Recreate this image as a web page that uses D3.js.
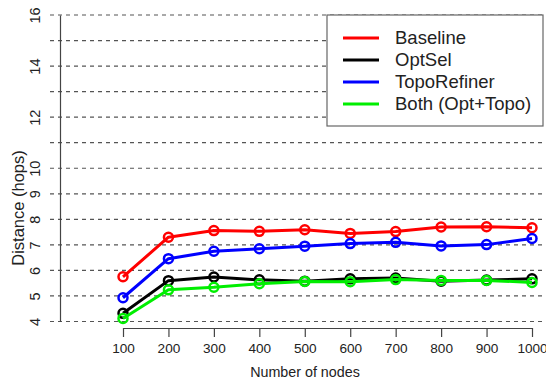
<!DOCTYPE html>
<html><head><meta charset="utf-8">
<script src="https://cdn.jsdelivr.net/npm/d3@7"></script>
<style>body{margin:0;background:#fff}svg{display:block;font-family:"Liberation Sans",Arial,sans-serif}</style>
</head><body><svg id="c" width="546" height="378"></svg>
<script>
const nodes = [100,200,300,400,500,600,700,800,900,1000];
const baseline = [5.75,7.30,7.56,7.53,7.59,7.45,7.52,7.70,7.71,7.67];
const optsel   = [4.32,5.60,5.74,5.63,5.58,5.67,5.70,5.58,5.62,5.67];
const topo     = [4.93,6.46,6.75,6.85,6.95,7.05,7.10,6.96,7.01,7.25];
const both     = [4.12,5.24,5.34,5.48,5.57,5.56,5.64,5.61,5.61,5.53];
const seriesNames = ["Baseline","OptSel","TopoRefiner","Both (Opt+Topo)"];
const seriesColors = ["#ff0000","#000000","#0000ff","#00ee00"];
const yTickLabels = [4,5,6,7,8,9,10,12,14,16];
const yGrid = d3.range(4,17);

const svg = d3.select("#c");
const x = d3.scaleLinear().domain([100,1000]).range([123,532]);
const y = d3.scaleLinear().domain([4,16]).range([321.5,15]);

// grid
svg.append("g").selectAll("line").data(yGrid).join("line")
  .attr("x1",50).attr("x2",546).attr("y1",d=>y(d)).attr("y2",d=>y(d))
  .attr("stroke","#555").attr("stroke-width",1.2).attr("stroke-dasharray","4,4");

// y axis
const ya = svg.append("g").attr("transform","translate(60,0)")
  .call(d3.axisLeft(y).tickValues(yTickLabels).tickSize(0).tickFormat(d3.format("d")));
ya.select(".domain").attr("stroke","#444").attr("stroke-width",1.2);
ya.selectAll("text").attr("font-size",14.5).attr("fill","#222")
  .attr("transform","translate(-25,0) rotate(-90)").attr("x",0).attr("y",0)
  .attr("dy","0.35em").attr("text-anchor","middle");

// x axis
const xa = svg.append("g").attr("transform","translate(0,328)")
  .call(d3.axisBottom(x).tickValues(nodes).tickSize(9).tickSizeOuter(0).tickFormat(d3.format("d")));
xa.select(".domain").attr("stroke","#444").attr("stroke-width",1.2);
xa.selectAll(".tick line").attr("stroke","#444").attr("stroke-width",1.2);
xa.selectAll("text").attr("font-size",13.6).attr("fill","#222").attr("y",20).attr("dy","0.35em");

svg.append("text").attr("x",305).attr("y",372).attr("dy","0.35em").attr("text-anchor","middle")
  .attr("font-size",14.3).attr("fill","#222").text("Number of nodes");
svg.append("text").attr("transform","translate(18,208) rotate(-90)").attr("dy","0.35em")
  .attr("text-anchor","middle").attr("font-size",16.5).attr("fill","#222").text("Distance (hops)");

const all = [baseline,optsel,topo,both];
const line = d3.line().x((d,i)=>x(nodes[i])).y(d=>y(d));
all.forEach((vals,k)=>{
  const g = svg.append("g");
  g.append("path").datum(vals).attr("d",line).attr("fill","none")
    .attr("stroke",seriesColors[k]).attr("stroke-width",3).attr("stroke-linejoin","round");
  g.selectAll("circle").data(vals).join("circle")
    .attr("cx",(d,i)=>x(nodes[i])).attr("cy",d=>y(d)).attr("r",4.5)
    .attr("fill","none").attr("stroke",seriesColors[k]).attr("stroke-width",2.5);
});

// legend
const lg = svg.append("g");
lg.append("rect").attr("x",327).attr("y",15).attr("width",216).attr("height",111)
  .attr("fill","#fff").attr("stroke","#666").attr("stroke-width",1.2);
seriesNames.forEach((n,k)=>{
  const yy = 38 + k*22;
  lg.append("line").attr("x1",343).attr("x2",379).attr("y1",yy).attr("y2",yy)
    .attr("stroke",seriesColors[k]).attr("stroke-width",3);
  lg.append("text").attr("x",395).attr("y",yy).attr("dy","0.35em")
    .attr("font-size",18.5).attr("fill","#222").text(n);
});
</script></body></html>
